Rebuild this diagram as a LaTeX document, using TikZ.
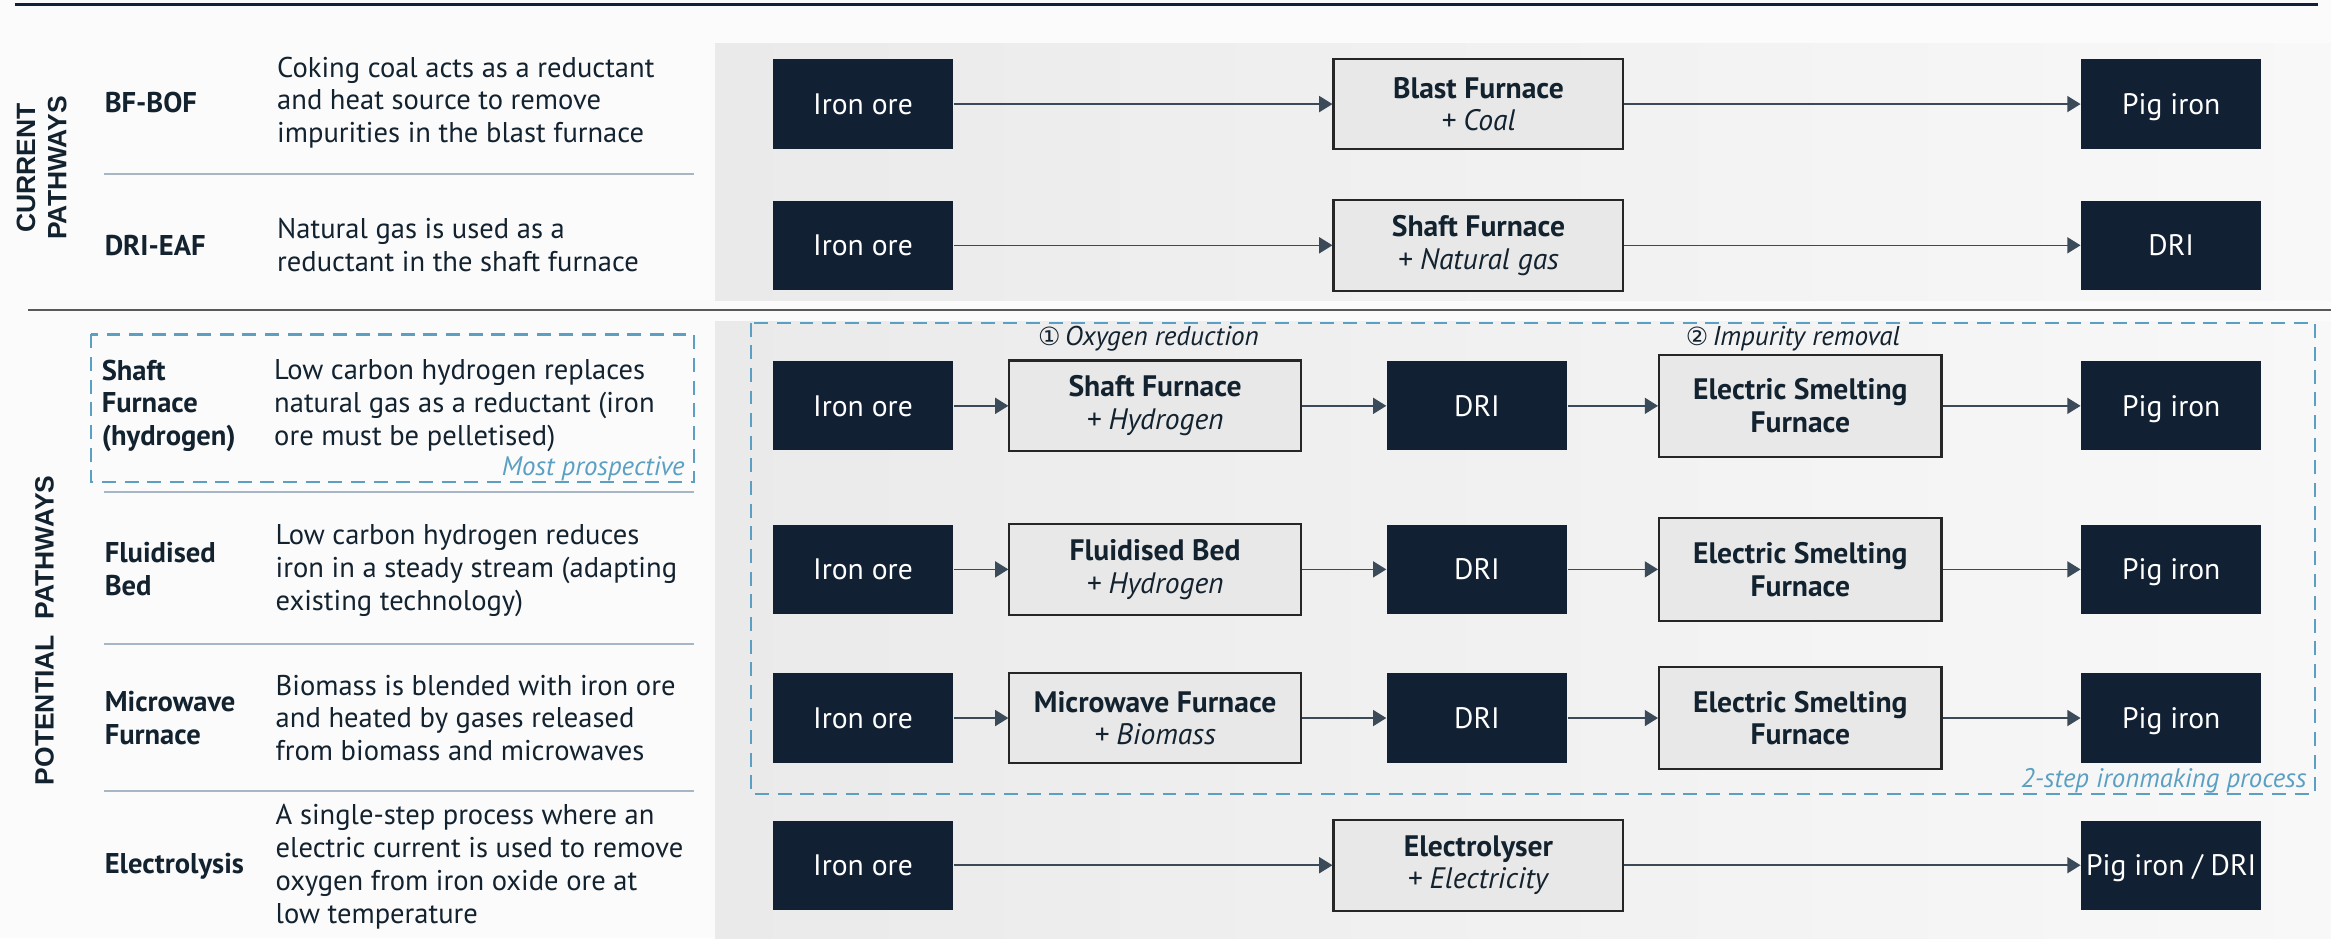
\documentclass[tikz,border=0pt]{standalone}
\usepackage{fontspec}
\setmainfont{PT Sans}
\newfontfamily\headfont{Liberation Sans}
\newfontfamily\circfont{DejaVu Sans}
\usetikzlibrary{arrows.meta}
\definecolor{navy}{HTML}{112033}
\definecolor{ink}{HTML}{13222F}
\definecolor{boxgray}{HTML}{E8E8E8}
\definecolor{flowgray}{HTML}{3B4A58}
\definecolor{dashblue}{HTML}{5BA0C2}
\definecolor{rulegray}{HTML}{A7B6C4}
\definecolor{pageback}{HTML}{FBFBFB}
\definecolor{panelL}{HTML}{EAEAEA}
\definecolor{panelR}{HTML}{F8F8F8}

\begin{document}
\begin{tikzpicture}[x=0.015cm, y=-0.015cm, text=ink,
	font=\fontsize{8.2}{9.4}\selectfont,
	ore/.style={fill=navy, text=white, minimum width=1.815cm, minimum height=0.9cm, inner sep=0pt, text height=0.72em, text depth=0.12em, font=\fontsize{8.5}{10}\selectfont},
	furn/.style={draw=black!85, line width=0.6pt, fill=boxgray, minimum width=2.925cm, minimum height=0.915cm, inner sep=0pt, align=center, font=\fontsize{8.5}{9.4}\selectfont},
	smelt/.style={furn, minimum width=2.85cm, minimum height=1.035cm},
	flow/.style={draw=flowgray, line width=0.45pt, -{Triangle[length=3.8pt,width=4.6pt]}},
	rowdesc/.style={anchor=west, align=left, inner sep=0pt},
	rowtitle/.style={anchor=west, align=left, inner sep=0pt, font=\fontsize{8.2}{9.4}\selectfont\bfseries},
	note/.style={font=\fontsize{7.7}{8}\selectfont\itshape, text=dashblue, inner sep=0pt},
	step note/.style={font=\fontsize{7.8}{8}\selectfont\itshape},
	group/.style={dashblue, line width=0.6pt, dash pattern=on 4pt off 2.5pt},
	]
	\path [use as bounding box, fill=pageback] (0,0) rectangle (1568,631);
	% grey panels
	\shade[left color=panelL, right color=panelR] (481,29) rectangle (1568,202);
	\shade[left color=panelL, right color=panelR] (481,216) rectangle (1568,631);
	\draw[navy, line width=0.9pt] (10,3) -- (1559,3);
	\draw[black!65, line width=0.6pt] (19,208.5) -- (1568,208.5);
	\foreach \y in {117,331,433,532}
		\draw[rulegray, line width=0.5pt] (70,\y) -- (467,\y);

	% side headings
	\node[rotate=90, align=center, font=\headfont\fontsize{7.6}{9}\selectfont\bfseries] (H1) at (28,113) {CURRENT\\PATHWAYS};
	\node[rotate=90, font=\headfont\fontsize{7.6}{9}\selectfont\bfseries] (H2) at (30,424) {POTENTIAL\hspace{0.6em}PATHWAYS};

	% left column
	\node[rowtitle] (T1) at (70,69) {BF-BOF};
	\node[rowdesc] (D1) at (186,69) {Coking coal acts as a reductant\\and heat source to remove\\impurities in the blast furnace};
	\node[rowtitle] (T2) at (70,165) {DRI-EAF};
	\node[rowdesc] (D2) at (186,165) {Natural gas is used as a\\reductant in the shaft furnace};
	\node[rowtitle] (T3) at (68,273) {Shaft\\Furnace\\(hydrogen)};
	\node[rowdesc] (D3) at (184,273) {Low carbon hydrogen replaces\\natural gas as a reductant (iron\\ore must be pelletised)};
	\node[rowtitle] (T4) at (70,383) {Fluidised\\Bed};
	\node[rowdesc] (D4) at (185,384) {Low carbon hydrogen reduces\\iron in a steady stream (adapting\\existing technology)};
	\node[rowtitle] (T5) at (70,483) {Microwave\\Furnace};
	\node[rowdesc] (D5) at (185,483) {Biomass is blended with iron ore\\and heated by gases released\\from biomass and microwaves};
	\node[rowtitle] (T6) at (70,583) {Electrolysis};
	\node[rowdesc] (D6) at (185,583) {A single-step process where an\\electric current is used to remove\\oxygen from iron oxide ore at\\low temperature};

	\draw[group] (61,225) rectangle (467,324);
	\node[note, anchor=east] (M1) at (461,315) {Most prospective};

	% single step rows
	\foreach \y/\n/\a/\b/\c in {70/1/Blast Furnace/Coal/Pig iron, 165/2/Shaft Furnace/Natural gas/DRI, 582/6/Electrolyser/Electricity/{Pig iron / DRI}} {
		\node[ore] (O\n) at (580.5,\y) {Iron ore};
		\node[furn] (F\n) at (994.5,\y) {\textbf{\a}\\\textit{+ \b}};
		\node[ore] (P\n) at (1460.5,\y) {\c};
		\draw[flow] (O\n) -- (F\n);
		\draw[flow] (F\n) -- (P\n);
	}

	% two step rows
	\draw[group] (505,217) rectangle (1557,534);
	\node[note, anchor=east] (M2) at (1552,525) {2-step ironmaking process};
	\node[step note] (A1) at (772.5,228) {{\circfont\upshape\fontsize{7.2}{8}\selectfont ①}\,Oxygen reduction};
	\node[step note] (A2) at (1206,228) {{\circfont\upshape\fontsize{7.2}{8}\selectfont ②}\,Impurity removal};
	\foreach \y/\n/\a/\b in {273/3/Shaft Furnace/Hydrogen, 383/4/Fluidised Bed/Hydrogen, 483/5/Microwave Furnace/Biomass} {
		\node[ore] (O\n) at (580.5,\y) {Iron ore};
		\node[furn, minimum width=2.94cm] (F\n) at (777,\y) {\textbf{\a}\\\textit{+ \b}};
		\node[ore] (R\n) at (993.5,\y) {DRI};
		\node[smelt] (S\n) at (1211,\y) {\textbf{Electric Smelting}\\\textbf{Furnace}};
		\node[ore] (P\n) at (1460.5,\y) {Pig iron};
		\draw[flow] (O\n) -- (F\n);
		\draw[flow] (F\n) -- (R\n);
		\draw[flow] (R\n) -- (S\n);
		\draw[flow] (S\n) -- (P\n);
	}
\end{tikzpicture}
\end{document}
